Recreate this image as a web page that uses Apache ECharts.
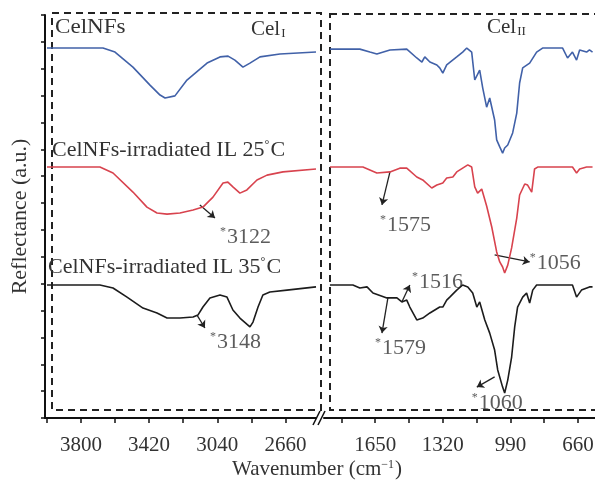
<!DOCTYPE html>
<html><head><meta charset="utf-8">
<script src="https://cdn.jsdelivr.net/npm/echarts@6/dist/echarts.min.js"></script>
<style>html,body{margin:0;padding:0;background:#fff}#c{width:595px;height:487px}</style>
</head><body><div id="c"></div>
<script>
// ---- Data (wavenumber cm-1, reflectance a.u. with vertical offsets) ----
const blueLeftWn = [3989,3677,3610,3510,3415,3359,3331,3276,3209,3097,3025,2980,2942,2897,2858,2802,2691,2490];
const blueLeftV  = [13.77,13.77,13.62,13.06,12.39,12.02,11.91,11.99,12.58,13.21,13.44,13.47,13.32,13.06,13.21,13.44,13.55,13.62];
const blueRightWn = [1871,1725,1676,1642,1578,1496,1447,1422,1408,1383,1349,1335,1320,1301,1252,1223,1203,1179,1164,1140,1125,1106,1091,1067,1057,1042,1028,1018,1003,979,959,945,930,896,862,833,735,711,687,667,652,618,604,589];
const blueRightV  = [13.73,13.73,13.62,13.55,13.70,13.73,13.40,13.25,13.44,13.25,13.14,13.03,12.84,13.14,13.44,13.62,13.77,13.62,12.58,12.95,12.28,11.57,11.91,11.09,10.35,10.09,9.86,10.05,10.16,10.61,11.35,12.47,13.03,13.21,13.62,13.77,13.77,13.40,13.62,13.32,13.70,13.62,13.70,13.62];
const redLeftWn = [3989,3694,3621,3510,3432,3376,3320,3248,3175,3120,3064,3008,2981,2953,2914,2875,2819,2763,2674,2490];
const redLeftV  = [9.34,9.34,9.12,8.41,7.85,7.63,7.59,7.63,7.74,7.85,8.22,8.75,8.78,8.60,8.37,8.49,8.86,9.04,9.16,9.27];
const redRightWn = [1871,1710,1642,1578,1530,1496,1447,1418,1374,1349,1320,1301,1271,1252,1223,1198,1179,1164,1150,1130,1106,1081,1057,1042,1028,1018,1003,984,959,945,920,906,886,872,857,687,667,652,618,589];
const redRightV  = [9.34,9.34,9.12,9.16,9.30,9.30,8.97,8.86,8.56,8.67,8.75,8.93,8.97,9.16,9.30,9.42,9.34,8.60,8.37,8.52,7.89,7.11,6.18,5.81,5.62,5.40,5.69,6.33,7.44,8.30,8.71,8.67,8.41,9.27,9.34,9.34,9.12,9.27,9.34,9.34];
const blackLeftWn = [3989,3694,3621,3543,3454,3376,3320,3248,3175,3148,3120,3081,3025,2986,2953,2914,2858,2841,2813,2786,2747,2652,2490];
const blackLeftV  = [4.95,4.95,4.84,4.50,4.09,3.91,3.72,3.72,3.76,3.83,4.13,4.47,4.58,4.50,4.02,3.72,3.39,3.57,4.13,4.58,4.69,4.76,4.88];
const blackRightWn = [1871,1759,1725,1690,1661,1593,1544,1520,1496,1481,1447,1418,1383,1359,1335,1320,1301,1286,1252,1223,1198,1174,1154,1140,1115,1091,1067,1052,1028,1018,1003,984,969,955,930,911,896,881,862,687,667,643,604,589];
const blackRightV  = [4.95,4.95,4.84,4.88,4.65,4.47,4.47,4.32,4.39,4.13,3.65,3.72,3.91,4.02,4.13,4.13,4.39,4.50,4.76,4.95,4.88,4.65,4.13,4.32,3.65,3.16,2.53,1.79,1.15,0.93,1.41,2.27,3.39,4.13,4.50,4.65,4.28,4.76,4.95,4.95,4.50,4.76,4.88,4.88];

const leftTicks = [3990,3800,3610,3420,3230,3040,2850,2660];
const leftLabels = [3800,3420,3040,2660];
const rightTicks = [1815,1650,1485,1320,1155,990,825,660];
const rightLabels = [1650,1320,990,660];

// annotations: [panel, text, wn, value]
const annotLabels = [
  ['L','3122',3025,6.74],['L','3148',3081,2.83],
  ['R','1575',1627,7.18],['R','1056',896,5.77],['R','1516',1471,5.06],
  ['R','1579',1651,2.61],['R','1060',1179,0.56]
];
// arrows: [panel, wn1, v1, wn2, v2]
const annotArrows = [
  ['L',3137,7.93,3053,7.44],['L',3153,3.83,3109,3.35],
  ['R',1578,9.16,1617,7.93],['R',1067,6.07,896,5.81],['R',1520,4.32,1481,4.95],
  ['R',1588,4.47,1617,3.16],['R',1067,1.53,1154,1.15]
];

const zip = (a,b)=>a.map((x,i)=>[x,b[i]]);
const SERIF = '"Liberation Serif","DejaVu Serif",serif';
const TXT = '#333';
const BLUE = '#4161a8', RED = '#d8434e', BLACK = '#1c1c1c';

const chart = echarts.init(document.getElementById('c'));
const G = [
  {left:45, top:15, width:271, height:403, outerBoundsMode:'none', containLabel:false},
  {left:324, top:15, width:271, height:403, outerBoundsMode:'none', containLabel:false}
];

function xAx(i, min, max, ticks, labels){
  return {type:'value', gridIndex:i, inverse:true, min:min, max:max,
    axisLine:{show:true, onZero:false, lineStyle:{color:'#111', width:2}},
    axisTick:{show:true, inside:false, length:5, customValues:ticks, lineStyle:{color:'#111', width:1.5}},
    axisLabel:{show:true, customValues:labels, margin:17, fontFamily:SERIF, fontSize:21, color:TXT,
      formatter:v=>String(v), hideOverlap:false},
    splitLine:{show:false}};
}
function yAx(i, show){
  return {type:'value', gridIndex:i, min:0, max:15, interval:1,
    axisLine:{show:show, lineStyle:{color:'#111', width:2}},
    axisTick:{show:show, inside:false, length:4, lineStyle:{color:'#111', width:1.5}},
    axisLabel:{show:false}, splitLine:{show:false},
    name: show ? 'Reflectance (a.u.)' : '', nameLocation:'middle', nameGap:14,
    nameTextStyle:{fontFamily:SERIF, fontSize:22, color:TXT}};
}
function line(name, i, data, color){
  return {name:name, type:'line', xAxisIndex:i, yAxisIndex:i, data:data, showSymbol:false,
    lineStyle:{color:color, width:1.6}, silent:true, animation:false};
}
const series = [
  line('CelNFs',0,zip(blueLeftWn,blueLeftV),BLUE),
  line('CelNFs',1,zip(blueRightWn,blueRightV),BLUE),
  line('25',0,zip(redLeftWn,redLeftV),RED),
  line('25',1,zip(redRightWn,redRightV),RED),
  line('35',0,zip(blackLeftWn,blackLeftV),BLACK),
  line('35',1,zip(blackRightWn,blackRightV),BLACK)
];
[0,1].forEach(i=>{
  const P = i===0?'L':'R';
  series.push({type:'lines', coordinateSystem:'cartesian2d', xAxisIndex:i, yAxisIndex:i, animation:false,
    symbol:['none','arrow'], symbolSize:7,
    lineStyle:{color:'#222', width:1.3, opacity:1},
    data: annotArrows.filter(a=>a[0]===P).map(a=>({coords:[[a[1],a[2]],[a[3],a[4]]]}))});
  series.push({type:'scatter', xAxisIndex:i, yAxisIndex:i, symbolSize:0, animation:false,
    data: annotLabels.filter(a=>a[0]===P).map(a=>({value:[a[2],a[3]], name:a[1]})),
    label:{show:true, position:'right', distance:0, formatter:p=>'{s|*}'+p.name,
      fontFamily:SERIF, fontSize:22, color:TXT,
      rich:{s:{fontFamily:SERIF, fontSize:12, color:TXT, verticalAlign:'top', padding:[0,1,8,0]}}}});
});

const dash = {stroke:'#222', lineWidth:2, fill:null, lineDash:[7,5]};
const sup = {font:'12px '+SERIF, fill:TXT, verticalAlign:'top', padding:[0,1,9,0]};
const sub = {font:'13px '+SERIF, fill:TXT, verticalAlign:'bottom', padding:[9,0,0,1]};
const graphic = [
  {type:'rect', shape:{x:52, y:13, width:269, height:397}, style:dash, silent:true},
  {type:'rect', shape:{x:330, y:14, width:290, height:396}, style:dash, silent:true},
  // axis break marks
  {type:'line', shape:{x1:313, y1:425, x2:320, y2:411}, style:{stroke:'#111', lineWidth:1.5}},
  {type:'line', shape:{x1:318, y1:425, x2:325, y2:411}, style:{stroke:'#111', lineWidth:1.5}},
  {type:'text', left:55, top:17, scaleX:1.1, style:{text:'CelNFs', font:'21px '+SERIF, fill:TXT}},
  {type:'text', left:251, top:19, style:{text:'Cel{s|I}', font:'21px '+SERIF, fill:TXT, rich:{s:sub}}},
  {type:'text', left:487, top:17, style:{text:'Cel{s|II}', font:'21px '+SERIF, fill:TXT, rich:{s:sub}}},
  {type:'text', left:52, top:139, style:{text:'CelNFs-irradiated IL 25{s|°}C', font:'22px '+SERIF, fill:TXT, rich:{s:sup}}},
  {type:'text', left:48, top:256, style:{text:'CelNFs-irradiated IL 35{s|°}C', font:'22px '+SERIF, fill:TXT, rich:{s:sup}}},
  {type:'text', left:232, top:459, style:{text:'Wavenumber (cm{s|−1})', font:'21px '+SERIF, fill:TXT, rich:{s:sup}}}
];

chart.setOption({
  animation:false, backgroundColor:'#fff',
  grid:G,
  xAxis:[xAx(0,2490,4000,leftTicks,leftLabels), xAx(1,577,1900,rightTicks,rightLabels)],
  yAxis:[yAx(0,true), yAx(1,false)],
  series:series,
  graphic:graphic
});
</script></body></html>
